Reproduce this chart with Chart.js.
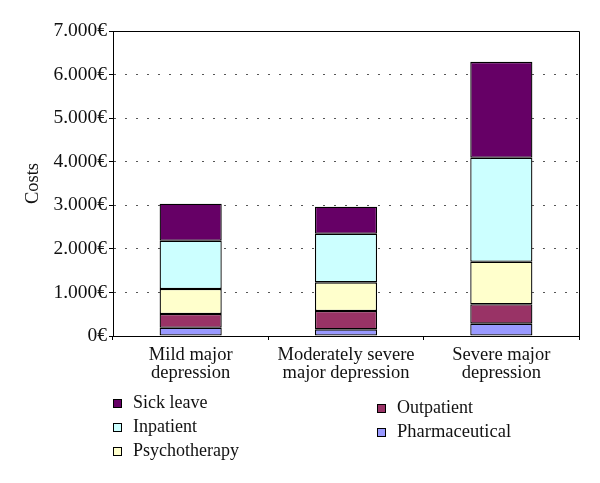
<!DOCTYPE html>
<html lang="en">
<head>
    <meta charset="UTF-8">
    <title>Depression costs</title>
    <script src="https://cdn.jsdelivr.net/npm/chart.js"></script>
    <style>
        body {
            margin: 0;
            background: #ffffff;
        }
        .chart-box {
            width: 600px;
            height: 483px;
        }
    </style>
</head>
<body>
    <div class="chart-box"><canvas id="costChart"></canvas></div>

    <script>
        // categories and cost per component (EUR), stacked bottom to top
        const categories = [['Mild major', 'depression'], ['Moderately severe', 'major depression'], ['Severe major', 'depression']];
        const pharmaceutical = [190, 153, 283];
        const outpatient = [315, 420, 444];
        const psychotherapy = [573, 658, 977];
        const inpatient = [1108, 1115, 2386];
        const sickLeave = [849, 620, 2202];
        const yTicks = [0, 1000, 2000, 3000, 4000, 5000, 6000, 7000];

        const serif = '"Liberation Serif", "Times New Roman", serif';

        function euro(v) {
            return String(v).replace(/\B(?=(\d{3})+(?!\d))/g, '.') + '€';
        }

        // box round the plot area (top and right edges)
        const frame = {
            id: 'frame',
            afterDatasetsDraw(chart) {
                const { ctx, chartArea: a } = chart;
                ctx.save();
                ctx.strokeStyle = '#000';
                ctx.lineWidth = 1;
                ctx.beginPath();
                ctx.moveTo(a.left, a.top + 0.5);
                ctx.lineTo(a.right + 0.5, a.top + 0.5);
                ctx.lineTo(a.right + 0.5, a.bottom);
                ctx.stroke();
                ctx.restore();
            }
        };

        // legend in two columns like the original figure
        const legendSpots = {
            'Sick leave': [113, 403],
            'Inpatient': [113, 427],
            'Psychotherapy': [113, 451],
            'Outpatient': [377, 408],
            'Pharmaceutical': [377, 432]
        };
        const customLegend = {
            id: 'customLegend',
            afterDraw(chart) {
                const ctx = chart.ctx;
                ctx.save();
                ctx.textBaseline = 'middle';
                chart.data.datasets.forEach(ds => {
                    const spot = legendSpots[ds.label];
                    if (!spot) return;
                    const [x, y] = spot;
                    ctx.fillStyle = ds.backgroundColor;
                    ctx.fillRect(x, y - 4, 8, 8);
                    ctx.strokeStyle = '#000';
                    ctx.lineWidth = 1;
                    ctx.strokeRect(x + 0.5, y - 3.5, 8, 8);
                    ctx.fillStyle = '#111';
                    ctx.font = (ds.label === 'Pharmaceutical' ? '18.5px ' : '18px ') + serif;
                    ctx.fillText(ds.label, x + 20, y);
                });
                ctx.restore();
            }
        };

        const makeSet = (label, data, color) => ({
            label: label,
            data: data,
            backgroundColor: color,
            borderColor: '#000',
            borderWidth: 1.3,
            borderSkipped: false,
            barPercentage: 0.4,
            categoryPercentage: 1.0
        });

        new Chart(document.getElementById('costChart'), {
            type: 'bar',
            data: {
                labels: categories,
                datasets: [
                    makeSet('Pharmaceutical', pharmaceutical, '#9999ff'),
                    makeSet('Outpatient', outpatient, '#993366'),
                    makeSet('Psychotherapy', psychotherapy, '#ffffcc'),
                    makeSet('Inpatient', inpatient, '#ccffff'),
                    makeSet('Sick leave', sickLeave, '#660066')
                ]
            },
            options: {
                responsive: true,
                maintainAspectRatio: false,
                animation: false,
                layout: {
                    padding: { top: 31, right: 21, left: 0, bottom: 0 }
                },
                plugins: {
                    legend: { display: false },
                    tooltip: { enabled: false }
                },
                scales: {
                    x: {
                        stacked: true,
                        afterFit: scale => { scale.height = 147; },
                        grid: {
                            offset: true,
                            drawOnChartArea: false,
                            color: '#000',
                            tickLength: 4
                        },
                        border: { color: '#000', width: 1 },
                        ticks: {
                            color: '#111',
                            padding: 7,
                            maxRotation: 0,
                            font: { family: serif, size: 18.5, lineHeight: 0.93 }
                        }
                    },
                    y: {
                        stacked: true,
                        min: 0,
                        max: 7000,
                        afterFit: scale => { scale.width = 113; },
                        afterBuildTicks: scale => {
                            scale.ticks = yTicks.map(v => ({ value: v }));
                        },
                        grid: {
                            color: '#555',
                            lineWidth: 1,
                            tickLength: 4,
                            tickColor: '#000',
                            tickBorderDash: []
                        },
                        border: { color: '#000', width: 1, dash: [2, 9] },
                        ticks: {
                            color: '#111',
                            padding: 2,
                            font: { family: serif, size: 19.5 },
                            callback: v => euro(v)
                        },
                        title: {
                            display: true,
                            text: 'Costs',
                            color: '#111',
                            padding: { top: 22, bottom: 0 },
                            font: { family: serif, size: 18.5 }
                        }
                    }
                }
            },
            plugins: [frame, customLegend]
        });
    </script>
</body>
</html>
